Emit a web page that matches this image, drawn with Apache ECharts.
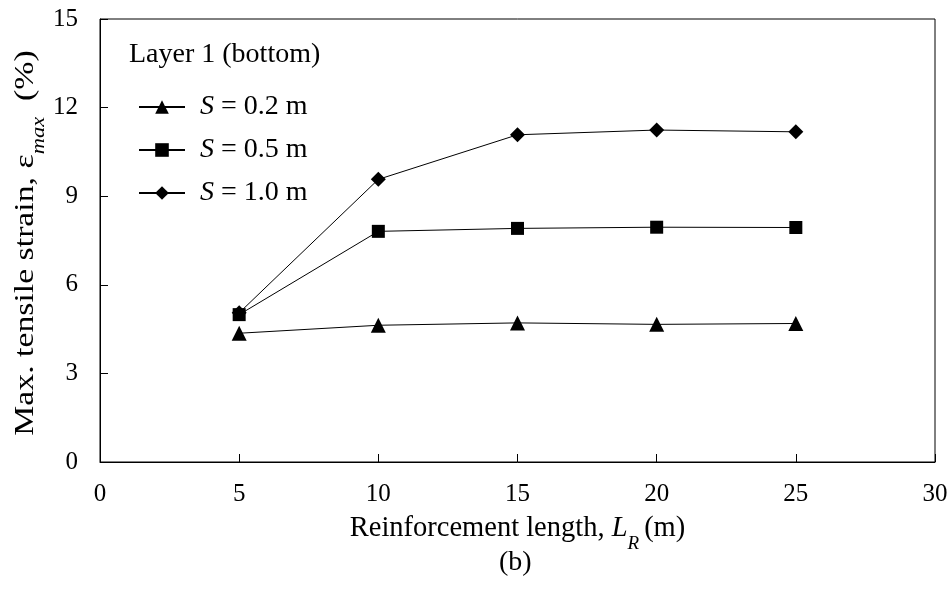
<!DOCTYPE html>
<html>
<head>
<meta charset="utf-8">
<script src="https://cdn.jsdelivr.net/npm/echarts@6/dist/echarts.min.js"></script>
<style>
  html, body { margin: 0; padding: 0; background: #fff; }
  #chart { width: 951px; height: 593px; }
</style>
</head>
<body>
<div id="chart"></div>
<script>
// Reinforcement length (m)
const lengths = [5, 10, 15, 20, 25];
// Max. tensile strain (%) for each spacing S
const strainS02 = [4.36, 4.63, 4.71, 4.66, 4.69];
const strainS05 = [4.99, 7.81, 7.91, 7.95, 7.94];
const strainS10 = [5.05, 9.57, 11.08, 11.24, 11.18];
const seriesNames = ['S = 0.2 m', 'S = 0.5 m', 'S = 1.0 m'];
const xTicks = [0, 5, 10, 15, 20, 25, 30];
const yTicks = [0, 3, 6, 9, 12, 15];

const FONT = '"Liberation Serif", "Times New Roman", serif';
const pairs = (ys) => lengths.map((x, i) => [x, ys[i]]);

const chart = echarts.init(document.getElementById('chart'), null, { renderer: 'canvas' });

const lineSeries = (name, data, symbol, size) => ({
  name: name,
  type: 'line',
  data: pairs(data),
  symbol: symbol,
  symbolSize: size,
  showSymbol: true,
  lineStyle: { color: '#000', width: 1 },
  itemStyle: { color: '#000' },
  emphasis: { disabled: true },
  animation: false
});

chart.setOption({
  backgroundColor: '#fff',
  animation: false,
  grid: { left: 100, right: 16, top: 19, bottom: 131, show: true, borderColor: '#000', borderWidth: 1 },
  title: {
    text: 'Layer 1 (bottom)',
    left: 129, top: 41, padding: 0,
    textStyle: { fontFamily: FONT, fontSize: 28, fontWeight: 'normal', color: '#000' }
  },
  legend: {
    orient: 'vertical',
    left: 138, top: 93, padding: 0,
    itemWidth: 46, itemHeight: 17,
    itemGap: 15,
    data: seriesNames,
    selectedMode: false,
    formatter: (n) => '{i|S}{t|' + n.slice(1) + '}',
    textStyle: {
      color: '#000', fontFamily: FONT, fontSize: 28, padding: [0, 0, 0, 10],
      rich: {
        i: { fontFamily: FONT, fontSize: 28, fontStyle: 'italic', color: '#000' },
        t: { fontFamily: FONT, fontSize: 28, color: '#000' }
      }
    }
  },
  xAxis: {
    type: 'value',
    min: 0, max: 30, interval: 5,
    name: '{a|Reinforcement length, }{i|L}{s|R}{a|(m)}',
    nameLocation: 'middle',
    nameGap: 52,
    nameTextStyle: {
      rich: {
        a: { fontFamily: FONT, fontSize: 28.5, color: '#000' },
        i: { fontFamily: FONT, fontSize: 28.5, fontStyle: 'italic', color: '#000' },
        s: { fontFamily: FONT, fontSize: 19, fontStyle: 'italic', color: '#000', verticalAlign: 'bottom', padding: [0, 5, -10, 0] }
      }
    },
    axisLine: { lineStyle: { color: '#000', width: 1 } },
    axisTick: { inside: true, length: 8, lineStyle: { color: '#000' } },
    axisLabel: {
      color: '#000', fontFamily: FONT, fontSize: 25, margin: 20,
      customValues: xTicks
    },
    splitLine: { show: false }
  },
  yAxis: {
    type: 'value',
    min: 0, max: 15, interval: 3,
    axisLine: { lineStyle: { color: '#000', width: 1 } },
    axisTick: { inside: true, length: 8, lineStyle: { color: '#000' } },
    axisLabel: {
      color: '#000', fontFamily: FONT, fontSize: 25, margin: 22,
      customValues: yTicks
    },
    splitLine: { show: false }
  },
  graphic: [
    {
      // vertical axis title, stretched along its reading direction
      type: 'text',
      x: 26, y: 243,
      rotation: Math.PI / 2,
      scaleX: 1.25,
      style: {
        text: '{a|Max. tensile strain, ε}{s|max}{a| (%)}',
        align: 'center',
        verticalAlign: 'middle',
        rich: {
          a: { fontFamily: FONT, fontSize: 27, fill: '#000', color: '#000' },
          s: { fontFamily: FONT, fontSize: 18, fontStyle: 'italic', fill: '#000', color: '#000', verticalAlign: 'bottom', padding: [0, 6, -9, 0] }
        }
      }
    },
    {
      type: 'text',
      left: 499, top: 549,
      style: { text: '(b)', font: '28px ' + FONT, fill: '#000' }
    }
  ],
  series: [
    lineSeries(seriesNames[0], strainS02, 'triangle', 15),
    lineSeries(seriesNames[1], strainS05, 'rect', 13),
    lineSeries(seriesNames[2], strainS10, 'diamond', 15)
  ]
});
</script>
</body>
</html>
